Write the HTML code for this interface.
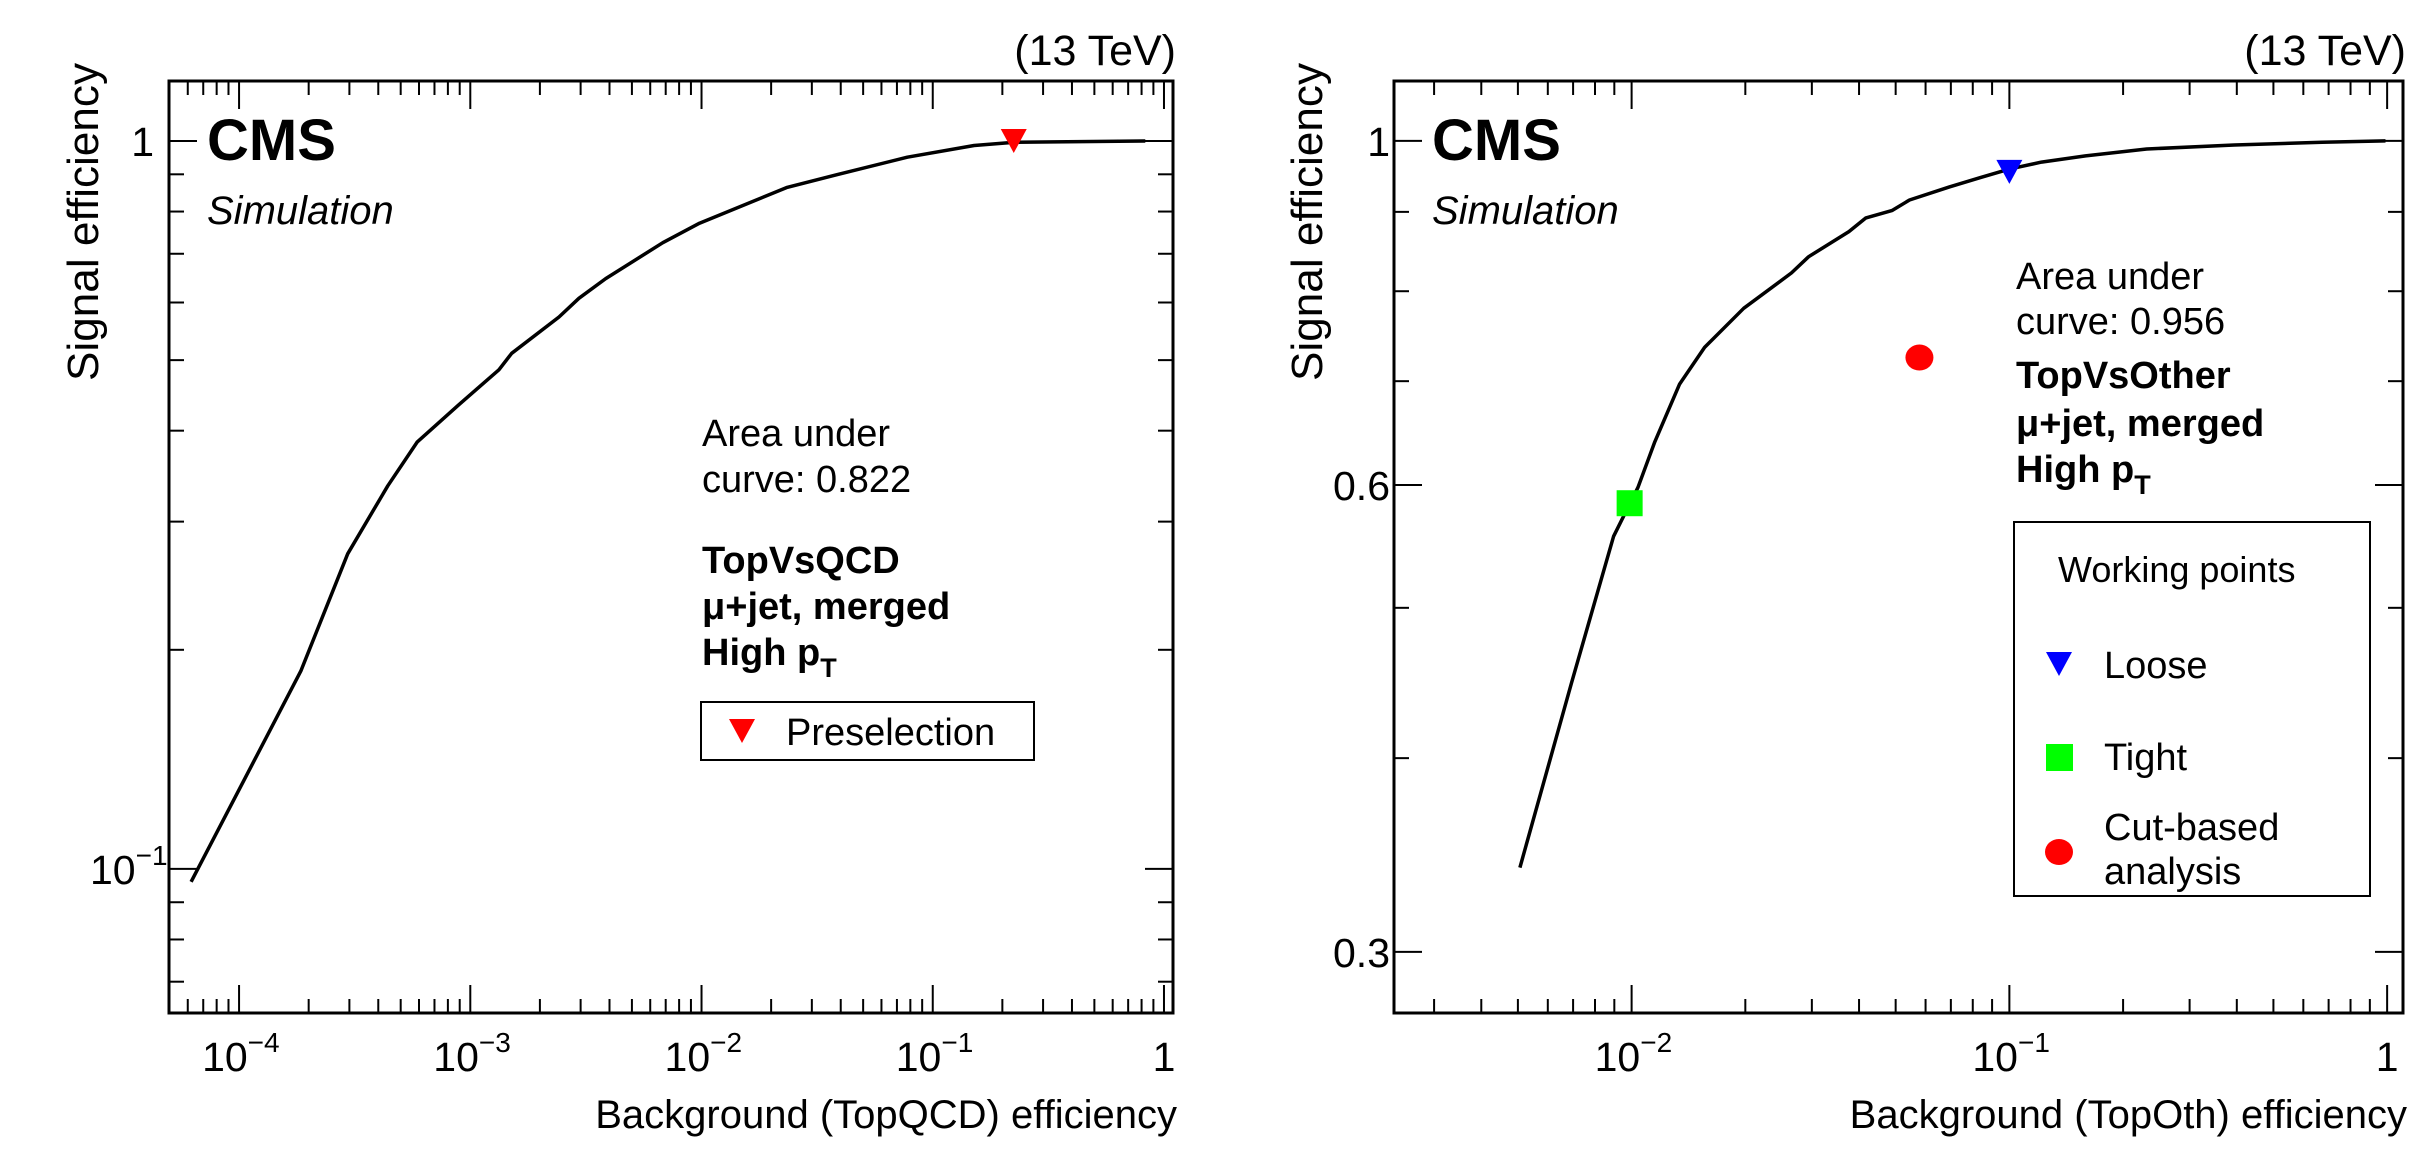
<!DOCTYPE html>
<html><head><meta charset="utf-8"><style>
html,body{margin:0;padding:0;background:#fff;}
svg{display:block;font-family:"Liberation Sans",sans-serif;}
</style></head><body>
<svg id="fig" width="2435" height="1165" viewBox="0 0 2435 1165" xmlns="http://www.w3.org/2000/svg"></svg>
<script>
// Left panel data (TopVsQCD)
const leftBkg = [6.2e-5,1.85e-4,2.95e-4,4.4e-4,5.9e-4,8.9e-4,1.33e-3,1.51e-3,2.42e-3,2.95e-3,3.85e-3,6.8e-3,9.8e-3,0.0233,0.0385,0.0776,0.151,0.226,0.83];
const leftSig = [0.096,0.187,0.271,0.336,0.386,0.434,0.485,0.511,0.573,0.608,0.647,0.725,0.771,0.863,0.899,0.950,0.986,0.996,1.0];
const leftMarkX = [0.224];
const leftMarkY = [1.0];
// Right panel data (TopVsOther)
const rightBkg = [0.00506,0.00693,0.00896,0.0104,0.0115,0.0134,0.0156,0.0198,0.0265,0.0294,0.0376,0.0417,0.049,0.0544,0.0694,0.0838,0.1,0.1216,0.159,0.231,0.394,0.673,0.99];
const rightSig = [0.340,0.447,0.556,0.598,0.639,0.697,0.736,0.780,0.822,0.842,0.874,0.892,0.902,0.916,0.934,0.947,0.959,0.969,0.978,0.988,0.994,0.998,1.0];
const wpNames = ["Loose","Tight","Cut-based"];
const wpX = [0.1,0.00988,0.0578];
const wpY = [0.955,0.584,0.725];
const leftXTicks = [-4,-3,-2,-1,0];
const rightXTicks = [-2,-1,0];
const rightYLabels = [0.3,0.6,1];

const NS="http://www.w3.org/2000/svg";
const svg=document.getElementById('fig');
function mk(tag,attrs,parent){const e=document.createElementNS(NS,tag);for(const k in attrs)e.setAttribute(k,attrs[k]);(parent||svg).appendChild(e);return e;}
function txt(s,x,y,size,opts,parent){const t=mk('text',Object.assign({x:x,y:y,'font-size':size,fill:'#000'},opts||{}),parent);t.textContent=s;return t;}

function panel(cfg){
  const g=mk('g',{});
  
  
  const {x0,x1,y0,y1,xmin,xmax,ymin,ymax}=cfg;
  const sx=v=>x0+(Math.log10(v)-Math.log10(xmin))/(Math.log10(xmax)-Math.log10(xmin))*(x1-x0);
  const sy=v=>y1-(Math.log10(v)-Math.log10(ymin))/(Math.log10(ymax)-Math.log10(ymin))*(y1-y0);
  const fr=mk('rect',{x:x0,y:y0,width:x1-x0,height:y1-y0,fill:'none',stroke:'#000','stroke-width':3},g);
  
  
  for(let e=-6;e<=0;e++){for(let m=1;m<=9;m++){const v=m*Math.pow(10,e);if(v<xmin||v>xmax)continue;const X=sx(v);const L=m===1?28:14;
    mk('line',{x1:X,y1:y1,x2:X,y2:y1-L,stroke:'#000','stroke-width':2},g);
    mk('line',{x1:X,y1:y0,x2:X,y2:y0+L,stroke:'#000','stroke-width':2},g);}}
  for(let e=-2;e<=0;e++){for(let m=1;m<=9;m++){const v=m*Math.pow(10,e);if(v<ymin||v>ymax)continue;const Y=sy(v);const L=cfg.yMajor(v)?28:15;
    mk('line',{x1:x0,y1:Y,x2:x0+L,y2:Y,stroke:'#000','stroke-width':2},g);
    mk('line',{x1:x1,y1:Y,x2:x1-L,y2:Y,stroke:'#000','stroke-width':2},g);}}
  cfg.xTicks.forEach(e=>{const X=sx(Math.pow(10,e));let t;
    if(e===0){t=txt('1',X,1071,41,{'text-anchor':'middle'},g);}
    else{t=txt('10',X-37,1071,41,{},g);const s=mk('tspan',{dy:-19,'font-size':28},t);s.textContent='\u2212'+(-e);}
    
    });
  cfg.yLabels(g,sy);
  const xt=txt(cfg.xTitle,x1+4,1128,40,{'text-anchor':'end'},g);
  
  
  const yt=txt('Signal efficiency',0,0,44,{'text-anchor':'end',textLength:318,lengthAdjust:'spacingAndGlyphs',transform:`translate(${cfg.ytx},${y0-18}) rotate(-90)`},g);
  
  
  const en=txt('(13 TeV)',x1+3,65,43,{'text-anchor':'end'},g);
  
  
  const cms=txt('CMS',x0+38,160,58,{'font-weight':'bold'},g);
  
  
  const sim=txt('Simulation',x0+38,224,40,{'font-style':'italic'},g);
  
  
  const pts=cfg.bx.map((b,i)=>sx(b).toFixed(1)+','+sy(cfg.sy[i]).toFixed(1)).join(' ');
  const c=mk('polyline',{points:pts,fill:'none',stroke:'#000','stroke-width':3.5,'stroke-linejoin':'round'},g);
  
  
  return {g,sx,sy};
}
function triangle(cx,cy,col,parent,name){const p=mk('polygon',{points:`${cx-13},${cy-12} ${cx+13},${cy-12} ${cx},${cy+12}`,fill:col},parent);
  
  return p;}

// LEFT
const L=panel({name:'left-panel',x0:169,x1:1173,y0:81,y1:1013,xmin:Math.pow(10,-4.303),xmax:Math.pow(10,0.039),ymin:0.0634,ymax:1.209,
  bx:leftBkg,sy:leftSig,xTicks:leftXTicks,xTitle:'Background (TopQCD) efficiency',ytx:98,
  yMajor:v=>Math.abs(v-1)<1e-9||Math.abs(v-0.1)<1e-9,
  yLabels:(g,sy)=>{let t=txt('1',154,sy(1)+15,41,{'text-anchor':'end'},g);
    
    
    t=txt('10',90,sy(0.1)+15,41,{},g);const s=mk('tspan',{dy:-19,'font-size':28},t);s.textContent='\u22121';
    
    }});
leftMarkX.forEach((v,i)=>triangle(L.sx(v),L.sy(leftMarkY[i]),'#ff0000',L.g,'preselection-marker'));
[['Area under',446,false],['curve: 0.822',492,false],['TopVsQCD',573,true],['\u03bc+jet, merged',619,true]].forEach(a=>{
  const t=txt(a[0],702,a[1],38,a[2]?{'font-weight':'bold'}:{},L.g);
  
  });
{const t=txt('High p',702,665,38,{'font-weight':'bold'},L.g);const s=mk('tspan',{dy:12,'font-size':27},t);s.textContent='T';
 
 }
{const lg=mk('g',{},L.g);
 
 
 mk('rect',{x:701,y:702,width:333,height:58,fill:'#fff',stroke:'#000','stroke-width':2},lg);
 triangle(742,731,'#ff0000',lg,'legend-marker-preselection');
 const t=txt('Preselection',786,745,38,{},lg);
 
 }

// RIGHT
const R=panel({name:'right-panel',x0:1394,x1:2403,y0:81,y1:1013,xmin:Math.pow(10,-2.629),xmax:Math.pow(10,0.042),ymin:0.274,ymax:1.093,
  bx:rightBkg,sy:rightSig,xTicks:rightXTicks,xTitle:'Background (TopOth) efficiency',ytx:1322,
  yMajor:v=>rightYLabels.some(l=>Math.abs(l-v)<1e-9),
  yLabels:(g,sy)=>{rightYLabels.forEach(v=>{const t=txt(String(v),1390,sy(v)+15,41,{'text-anchor':'end'},g);
    
    });}});
{const X=R.sx(wpX[0]),Y=R.sy(wpY[0]);triangle(X,Y,'#0000ff',R.g,'loose-marker');}
{const X=R.sx(wpX[1]),Y=R.sy(wpY[1]);const r=mk('rect',{x:X-13,y:Y-13,width:26,height:26,fill:'#00ff00'},R.g);
 
 }
{const X=R.sx(wpX[2]),Y=R.sy(wpY[2]);const c=mk('ellipse',{cx:X,cy:Y,rx:14,ry:13,fill:'#ff0000'},R.g);
 
 }
[['Area under',289,false],['curve: 0.956',334,false],['TopVsOther',388,true],['\u03bc+jet, merged',436,true]].forEach(a=>{
  const t=txt(a[0],2016,a[1],38,a[2]?{'font-weight':'bold'}:{},R.g);
  
  });
{const t=txt('High p',2016,482,38,{'font-weight':'bold'},R.g);const s=mk('tspan',{dy:12,'font-size':27},t);s.textContent='T';
 
 }
{const lg=mk('g',{},R.g);
 
 
 mk('rect',{x:2014,y:522,width:356,height:374,fill:'#fff',stroke:'#000','stroke-width':2},lg);
 let t=txt('Working points',2058,582,36,{},lg);
 
 
 triangle(2059,664,'#0000ff',lg,'legend-marker-loose');
 t=txt(wpNames[0],2104,678,38,{},lg);
 
 
 const sq=mk('rect',{x:2046,y:744,width:27,height:27,fill:'#00ff00'},lg);
 
 
 t=txt(wpNames[1],2104,770,38,{},lg);
 
 
 const ci=mk('ellipse',{cx:2059,cy:852,rx:14,ry:13,fill:'#ff0000'},lg);
 
 
 t=txt('Cut-based',2104,840,38,{},lg);
 
 
 t=txt('analysis',2104,884,38,{},lg);
 
 }
</script>
</body></html>
